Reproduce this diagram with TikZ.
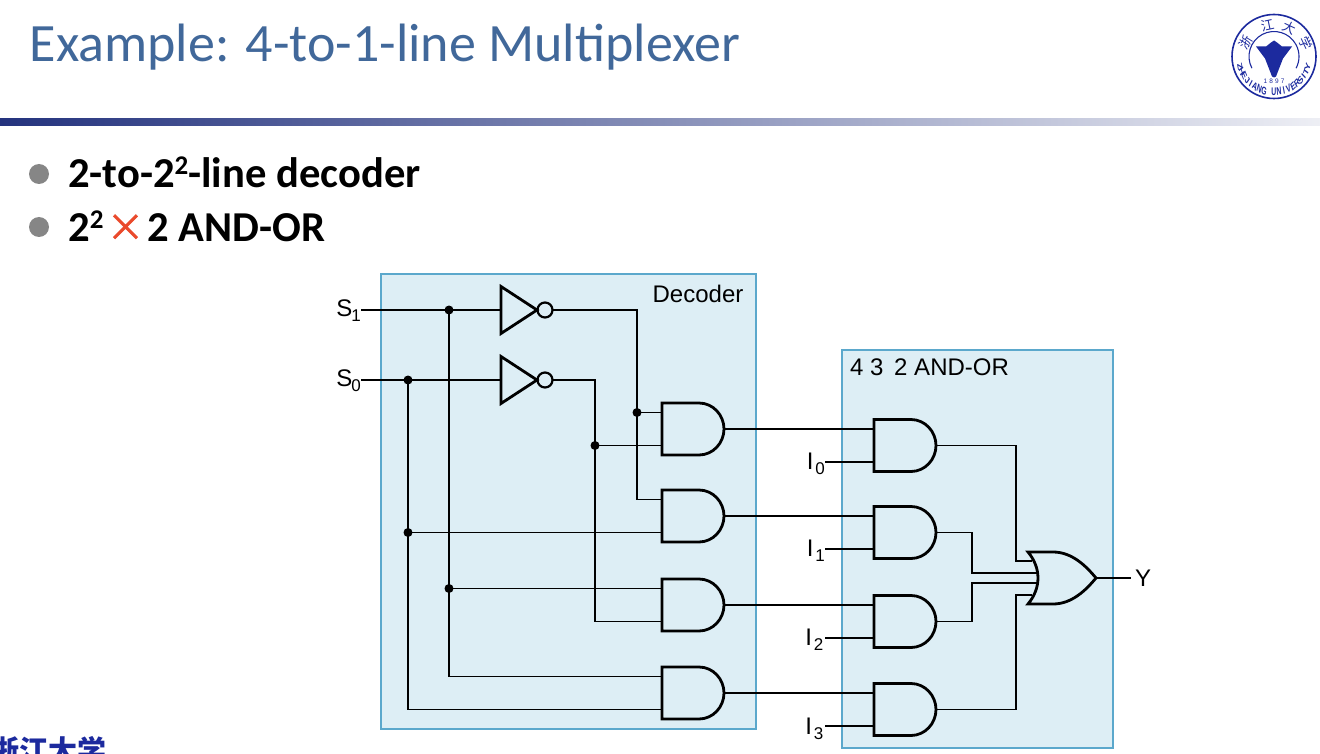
\documentclass[tikz,border=0pt]{standalone}
\usepackage{fontspec}
\setmainfont{Liberation Sans}
\newfontfamily\titlefont{Carlito}
\newfontfamily\cjkfont{Noto Sans CJK SC}
\newfontfamily\crossfont[FakeBold=1.2]{Noto Sans CJK SC}
\definecolor{boxfill}{HTML}{DDEEF5}
\definecolor{boxline}{HTML}{5BA8CC}
\definecolor{titleblue}{HTML}{41689A}
\definecolor{logoblue}{HTML}{1C2A9E}
\definecolor{barnavy}{HTML}{24337E}
\definecolor{crossred}{HTML}{EA4A2C}
\newcommand{\sublab}[2]{#1\kern-1pt\raisebox{-5pt}{\fontsize{17}{17}\selectfont #2}}
\newcommand{\supnum}{\raisebox{13pt}{\fontsize{27}{27}\selectfont 2}}
\tikzset{
    wire/.style={line width=1.9pt, line join=miter},
    gate/.style={line width=2.8pt, line join=miter},
    pane/.style={fill=boxfill, draw=boxline, line width=1.8pt},
    lab/.style={inner sep=0pt, font=\fontsize{24}{24}\selectfont},
    bullet/.style={circle, fill=gray!95, minimum size=20pt, inner sep=0pt},
    bodytext/.style={anchor=base west, inner sep=0pt, font=\titlefont\bfseries\fontsize{42.6}{42.6}\selectfont},
    andgate/.pic={
        \draw[gate] (6,-26) -- (-31,-26) -- (-31,26) -- (6,26) .. controls (20,26) and (31,14) .. (31,0) .. controls (31,-14) and (20,-26) .. (6,-26) -- cycle;
        \coordinate (-in1) at (-31,-16.5);
        \coordinate (-in2) at (-31,16.5);
        \coordinate (-out) at (31,0);
    },
    orgate/.pic={
        \draw[gate] (-34,-26) -- (-9,-26) .. controls (10,-26) and (24,-12) .. (34,0) .. controls (24,12) and (10,26) .. (-9,26) -- (-34,26) .. controls (-20.7,10) and (-20.7,-10) .. (-34,-26) -- cycle;
        \coordinate (-in1) at (-30,-17);
        \coordinate (-in2) at (-25,-5);
        \coordinate (-in3) at (-25,5);
        \coordinate (-in4) at (-30,17);
        \coordinate (-out) at (34,0);
    },
    notgate/.pic={
        \draw[gate] (0,-23.5) -- (36,0) -- (0,23.5) -- cycle;
        \draw[line width=2.2pt] (44,0) circle (7.5pt);
        \coordinate (-in) at (0,0);
        \coordinate (-out) at (51.5,0);
    },
}
\begin{document}
\begin{tikzpicture}[x=1pt,y=-1pt]
\useasboundingbox (0,0) rectangle (1320,754);
    \node[anchor=base west, inner sep=0pt, text=titleblue, font=\titlefont\fontsize{54}{54}\selectfont] (Title) at (29.5,62) {Example: 4-to-1-line Multiplexer};
    \shade[left color=barnavy, right color=barnavy!8, middle color=barnavy!55] (0,119) rectangle (1320,126);
    \node[bullet] (B1) at (39,174) {};
    \node[bullet] (B2) at (39,227) {};
    \node[bodytext] (L1) at (68,188) {2-to-2\supnum-line decoder};
    \node[bodytext] (L2) at (68,241) {2\supnum\kern3pt{\crossfont\mdseries\fontsize{38}{38}\selectfont\textcolor{crossred}{×}}\kern3pt 2 AND-OR};
    % decoder and and-or panes
    \node[pane, minimum width=375pt, minimum height=455pt, anchor=north west, inner sep=0pt] (Dec) at (380.1,273.1) {};
    \node[pane, minimum width=271pt, minimum height=398pt, anchor=north west, inner sep=0pt] (AO) at (841.1,349.1) {};
    \node[lab] (DecT) at (698,294) {Decoder};
    \node[lab, anchor=west] (AOT) at (850,367) {4 3\, 2 AND-OR};
    % gates
    \pic (N1) at (501,310) {notgate};
    \pic (N0) at (501,380) {notgate};
    \pic (D0) at (693,429) {andgate};
    \pic (D1) at (693,516) {andgate};
    \pic (D2) at (693,605) {andgate};
    \pic (D3) at (693,693) {andgate};
    \pic (A0) at (905,445.5) {andgate};
    \pic (A1) at (905,532.5) {andgate};
    \pic (A2) at (905,621.5) {andgate};
    \pic (A3) at (905,709.5) {andgate};
    \pic (R) at (1062,578) {orgate};
    % labels
    \node[lab, anchor=east] (S1) at (361,311) {\sublab{S}{1}};
    \node[lab, anchor=east] (S0) at (361,381) {\sublab{S}{0}};
    \node[lab, anchor=east] (I0) at (825,464) {\sublab{I}{\,0}};
    \node[lab, anchor=east] (I1) at (825,551) {\sublab{I}{\,1}};
    \node[lab, anchor=east, inner xsep=1.5pt] (I2) at (825,640) {\sublab{I}{\,2}};
    \node[lab, anchor=east, inner xsep=1.5pt] (I3) at (825,729) {\sublab{I}{\,3}};
    \node[lab, anchor=west, inner xsep=4pt] (Y) at (1131,578) {Y};
    % junctions
    \coordinate (J1) at (449,0 |- N1-in);
    \coordinate (J0) at (408,0 |- N0-in);
    \coordinate (K1) at (637,0 |- D0-in1);
    \coordinate (K0) at (595,0 |- D0-in2);
    \coordinate (M0) at (408,0 |- D1-in2);
    \coordinate (M1) at (449,0 |- D2-in1);
    \coordinate (C0) at (1016,0 |- R-in1);
    \coordinate (C1) at (972,0 |- R-in2);
    \coordinate (C2) at (972,0 |- R-in3);
    \coordinate (C3) at (1016,0 |- R-in4);
    % decoder wires
    \draw[wire] (N1-in -| S1.east) -- (N1-in);
    \draw[wire] (N0-in -| S0.east) -- (N0-in);
    \draw[wire] (J1) |- (D3-in1);
    \draw[wire] (J0) |- (D3-in2);
    \draw[wire] (N1-out) -| (K1) |- (D1-in1);
    \draw[wire] (N0-out) -| (K0) |- (D2-in2);
    \draw[wire] (K1) -- (D0-in1);
    \draw[wire] (K0) -- (D0-in2);
    \draw[wire] (M0) -- (D1-in2);
    \draw[wire] (M1) -- (D2-in1);
    \fill (J1) circle (4.5pt);
    \fill (J0) circle (4.5pt);
    \fill (K1) circle (4.5pt);
    \fill (K0) circle (4.5pt);
    \fill (M0) circle (4.5pt);
    \fill (M1) circle (4.5pt);
    % and-or wires
    \draw[wire] (D0-out) -- (A0-in1);
    \draw[wire] (D1-out) -- (A1-in1);
    \draw[wire] (D2-out) -- (A2-in1);
    \draw[wire] (D3-out) -- (A3-in1);
    \draw[wire] (I0.east |- A0-in2) -- (A0-in2);
    \draw[wire] (I1.east |- A1-in2) -- (A1-in2);
    \draw[wire] (I2.east |- A2-in2) -- (A2-in2);
    \draw[wire] (I3.east |- A3-in2) -- (A3-in2);
    \draw[wire] (A0-out) -| (C0) -- (R-in1);
    \draw[wire] (A1-out) -| (C1) -- (R-in2);
    \draw[wire] (A2-out) -| (C2) -- (R-in3);
    \draw[wire] (A3-out) -| (C3) -- (R-in4);
    \draw[wire] (R-out) -- (Y.west);
    % badge
    \begin{scope}[shift={(1274,56.5)},y=1pt,logoblue]
    \draw[line width=1.6pt] (0,0) circle (42pt);
    \draw[line width=1.1pt] (208:25) arc (208:-28:25);
    \fill (-18,10) -- (-8,10) -- (-3,14) -- (0,16) -- (3,14) -- (8,10) -- (18,10) -- (9,-2) -- (2,-20) -- (0,-21) -- (-2,-20) -- (-9,-2) -- cycle;
    \foreach \ch [count=\i] in {Z,H,E,J,I,A,N,G,{},U,N,I,V,E,R,S,I,T,Y}
        \node[inner sep=0pt, xscale=.62, rotate={188.9+8.1*\i+90}, font=\bfseries\fontsize{11}{11}\selectfont] (U\i) at ({188.9+8.1*\i}:35.5) {\ch};
    \node[inner sep=0pt, font=\fontsize{6.5}{6.5}\selectfont] (Year) at (0,-25) {1\,\,8\,\,9\,\,7};
    \node[inner sep=0pt, rotate=58, font=\cjkfont\fontsize{13}{13}\selectfont] (Z1) at (153:32) {浙};
    \node[inner sep=0pt, rotate=12, font=\cjkfont\fontsize{13}{13}\selectfont] (Z2) at (102:32) {江};
    \node[inner sep=0pt, rotate=-25, font=\cjkfont\fontsize{13}{13}\selectfont] (Z3) at (62:33) {大};
    \node[inner sep=0pt, rotate=-65, font=\cjkfont\fontsize{13}{13}\selectfont] (Z4) at (22:34) {学};
    \end{scope}
    \node[anchor=base west, inner sep=0pt, text=logoblue, font=\cjkfont\bfseries\fontsize{29}{29}\selectfont] (Foot) at (-10,761) {浙江大学};
\end{tikzpicture}
\end{document}
